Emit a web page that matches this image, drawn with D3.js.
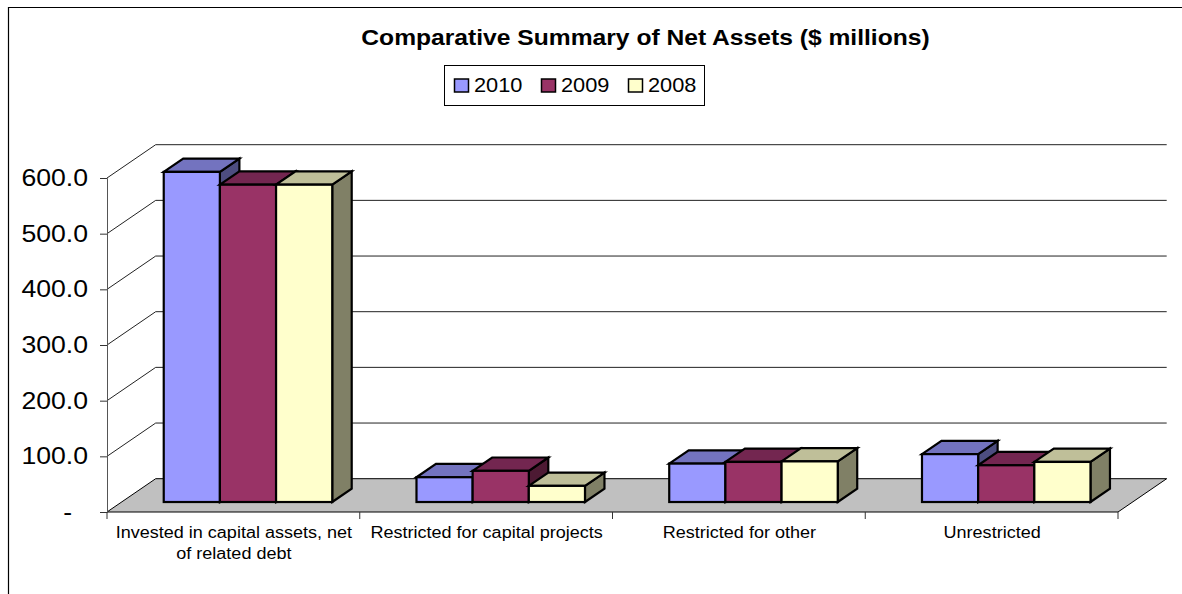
<!DOCTYPE html>
<html>
<head>
<meta charset="utf-8">
<script src="https://cdn.jsdelivr.net/npm/d3@7/dist/d3.min.js"></script>
<style>
  html, body { margin: 0; padding: 0; background: #fff; }
  svg { display: block; }
  text { font-family: "Liberation Sans", Arial, sans-serif; fill: #000; }
</style>
</head>
<body>
<svg id="chart" width="1182" height="594"></svg>
<script>
// Net assets by category, $ millions
const categories = [
  ["Invested in capital assets, net", "of related debt"],
  ["Restricted for capital projects"],
  ["Restricted for other"],
  ["Unrestricted"]
];
const seriesNames = ["2010", "2009", "2008"];
const values2010 = [593, 44.5, 69, 86];
const values2009 = [570, 56, 72, 66];
const values2008 = [570, 29, 73, 72];
const yTicks = [0, 100, 200, 300, 400, 500, 600];

const seriesValues = [values2010, values2009, values2008];
const frontColors = ["#9999ff", "#993366", "#ffffcc"];
const topColors   = ["#7373bf", "#732650", "#bfbf99"];
const sideColors  = ["#4d4d80", "#4d1a33", "#808066"];

const svg = d3.select("#chart");
const stretch = 1.1;                 // text is set slightly wide
const depth = { x: 48.7, y: -33.3 }; // full depth of the 3D floor
const barDepthStart = 0.3, barDepthEnd = 0.7;

const y = d3.scaleLinear().domain([0, 600]).range([512, 178]);
const x0 = d3.scaleBand().domain(d3.range(categories.length)).range([107, 1118]);
const barW = x0.bandwidth() / 4.5;   // gap of 0.75 bar either side of the cluster
const x1 = d3.scaleBand().domain(d3.range(seriesNames.length))
  .range([x0.bandwidth() / 2 - barW * 1.5, x0.bandwidth() / 2 + barW * 1.5]);

// Chart frame: top and left edges only
svg.append("path").attr("d", "M8.5,594V7.5H1182")
  .attr("fill", "none").attr("stroke", "#000").attr("stroke-width", 1.2);

// Wall gridlines, running round the side wall and along the back wall
const grid = svg.append("g").attr("fill", "none").attr("stroke", "#222").attr("stroke-width", 1);
yTicks.slice(1).forEach(t => {
  const yy = y(t);
  grid.append("path").attr("d", d3.line()([
    [x0.range()[0], yy],
    [x0.range()[0] + depth.x, yy + depth.y],
    [x0.range()[1] + depth.x, yy + depth.y]
  ]));
});

// Floor
const floorY = y(0);
svg.append("path")
  .attr("d", d3.line()([
    [x0.range()[0], floorY],
    [x0.range()[0] + depth.x, floorY + depth.y],
    [x0.range()[1] + depth.x, floorY + depth.y],
    [x0.range()[1], floorY]
  ]) + "Z")
  .attr("fill", "#c0c0c0").attr("stroke", "#000").attr("stroke-width", 1);

// Value axis
const yAxis = svg.append("g").attr("transform", `translate(${x0.range()[0]},0)`)
  .call(d3.axisLeft(y).tickValues(yTicks).tickSize(7).tickPadding(0)
    .tickFormat(d => d === 0 ? "-" : d3.format(".1f")(d)));
yAxis.select(".domain").attr("stroke", "#555").attr("stroke-width", 1);
yAxis.selectAll(".tick line").attr("stroke", "#333");
yAxis.selectAll(".tick text")
  .style("font-size", "24.2px")
  .attr("text-anchor", "end")
  .attr("dy", null)
  .attr("x", null)
  .attr("y", 7.5)
  .attr("transform", d => `translate(${d === 0 ? -35 : -19},0) scale(${stretch},1)`);

// Category axis
const xAxis = svg.append("g").attr("transform", `translate(0,${floorY})`);
const catTicks = d3.range(categories.length + 1).map(i =>
  i < categories.length ? x0(i) : x0.range()[1]);
xAxis.selectAll("line").data(catTicks).join("line")
  .attr("x1", d => d).attr("x2", d => d).attr("y1", 0).attr("y2", 7)
  .attr("stroke", "#333");
categories.forEach((lines, i) => {
  lines.forEach((line, j) => {
    xAxis.append("text")
      .attr("transform", `translate(${x0(i) + x0.bandwidth() / 2 + 0.5},${26 + j * 21}) scale(${stretch},1)`)
      .attr("text-anchor", "middle")
      .style("font-size", "16.4px")
      .text(line);
  });
});

// 3D bars, painted left to right so each one overlaps its neighbour's side
const dBack = { x: depth.x * (barDepthEnd - barDepthStart), y: depth.y * (barDepthEnd - barDepthStart) };
const dFront = { x: depth.x * barDepthStart, y: depth.y * barDepthStart };
const bars = svg.append("g").attr("stroke", "#000").attr("stroke-width", 2.2).attr("stroke-linejoin", "miter");
const poly = pts => d3.line()(pts) + "Z";
categories.forEach((_, i) => {
  seriesValues.forEach((vals, s) => {
    const left = x0(i) + x1(s) + dFront.x;
    const right = left + x1.bandwidth();
    const base = y(0) + dFront.y;
    const top = y(vals[i]) + dFront.y;
    bars.append("path").attr("fill", sideColors[s]).attr("d", poly([
      [right, base], [right + dBack.x, base + dBack.y], [right + dBack.x, top + dBack.y], [right, top]
    ]));
    bars.append("path").attr("fill", topColors[s]).attr("d", poly([
      [left, top], [left + dBack.x, top + dBack.y], [right + dBack.x, top + dBack.y], [right, top]
    ]));
    bars.append("rect").attr("fill", frontColors[s])
      .attr("x", left).attr("y", top)
      .attr("width", right - left).attr("height", base - top);
  });
});

// Title
svg.append("text")
  .attr("transform", `translate(645.5,45) scale(${stretch},1)`)
  .attr("text-anchor", "middle")
  .style("font-size", "22.4px").style("font-weight", "bold")
  .text("Comparative Summary of Net Assets ($ millions)");

// Legend
const legend = svg.append("g");
legend.append("rect").attr("x", 444.5).attr("y", 65.5).attr("width", 260).attr("height", 40)
  .attr("fill", "#fff").attr("stroke", "#000").attr("stroke-width", 1);
const legendX = d3.scalePoint().domain(seriesNames).range([454, 628]);
seriesNames.forEach((name, s) => {
  const lx = legendX(name);
  legend.append("rect").attr("x", lx + 0.5).attr("y", 79).attr("width", 14).attr("height", 13)
    .attr("fill", frontColors[s]).attr("stroke", "#000").attr("stroke-width", 1.5);
  legend.append("text")
    .attr("transform", `translate(${lx + 20},92) scale(${stretch},1)`)
    .style("font-size", "19.8px")
    .text(name);
});
</script>
</body>
</html>
